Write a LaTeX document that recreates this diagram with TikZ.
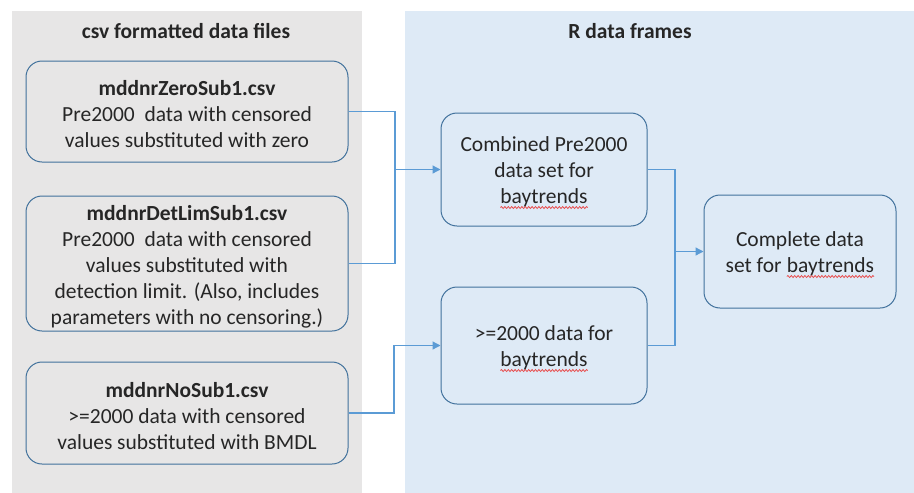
\documentclass[tikz,border=0pt]{standalone}
\usepackage{fontspec}
\setmainfont{Carlito}
\usetikzlibrary{arrows.meta,decorations.pathmorphing}
\definecolor{panelgray}{HTML}{E7E6E6}
\definecolor{panelblue}{HTML}{DEEAF6}
\definecolor{boxline}{HTML}{41719C}
\definecolor{conn}{HTML}{5B9BD5}
\definecolor{txt}{HTML}{262626}
\definecolor{squig}{HTML}{E84A4A}
\newcommand\spellword[1]{\tikz[baseline=(sw.base),x=1pt,y=1pt,sharp corners]{\node[inner sep=0pt,outer sep=0pt,minimum size=0pt,draw=none,fill=none,anchor=base,align=left,sharp corners] (sw) {#1};
 \draw[squig,line width=0.75pt,sharp corners,decorate,decoration={snake,amplitude=1pt,segment length=3.4pt}] ([yshift=-4.5pt]sw.base west) -- ([yshift=-4.5pt]sw.base east);}}
\tikzset{
  ptitle/.style={font=\fontsize{21.5}{26}\selectfont\bfseries,text=txt},
  filebox/.style={draw=boxline,line width=1pt,rounded corners=16pt,inner sep=0pt},
  boxtext/.style={align=center,text=txt,font=\fontsize{21.5}{26}\selectfont,inner sep=0pt,yshift=-3pt},
  link/.style={draw=conn,line width=1.3pt},
  arr/.style={link,-{Triangle[length=8pt,width=8pt]}}
}
\begin{document}
\begin{tikzpicture}[x=1pt,y=-1pt]
\useasboundingbox (0,0) rectangle (914,493);
\fill[panelgray] (12,11) rectangle (362,493);
\fill[panelblue] (405,11) rectangle (914,493);
\node[ptitle] (t1) at (186,31) {csv formatted data files};
\node[ptitle] (t2) at (630,31) {R data frames};

\node[filebox,minimum width=322pt,minimum height=101pt] (f1) at (187,111.5) {};
\node[boxtext] (f1t) at (f1.center)
  {\textbf{mddnrZeroSub1.csv}\\Pre2000\ \ data with censored\\values substituted with zero};
\node[filebox,minimum width=322pt,minimum height=135pt] (f2) at (187,263.5) {};
\node[boxtext] (f2t) at (f2.center)
  {\textbf{mddnrDetLimSub1.csv}\\Pre2000\ \ data with censored\\values substituted with\\detection limit. (Also, includes\\parameters with no censoring.)};
\node[filebox,minimum width=322pt,minimum height=102pt] (f3) at (187,413) {};
\node[boxtext] (f3t) at (f3.center)
  {\textbf{mddnrNoSub1.csv}\\>=2000 data with censored\\values substituted with BMDL};

\node[filebox,minimum width=206pt,minimum height=113pt] (c1) at (544,169.5) {};
\node[boxtext] (c1t) at (c1.center) {Combined Pre2000\\data set for\\\spellword{baytrends}};
\node[filebox,minimum width=206pt,minimum height=117pt] (c2) at (544,345.5) {};
\node[boxtext] (c2t) at (c2.center) {>=2000 data for\\\spellword{baytrends}};
\node[filebox,minimum width=192pt,minimum height=113pt] (c3) at (800,251.5) {};
\node[boxtext] (c3t) at (c3.center) {Complete data\\set for \spellword{baytrends}};

\coordinate (j1) at (395,169.5);
\coordinate (j2) at (675,251.5);
\draw[link] (f1.east) -| (j1) |- (f2.east);
\draw[arr] (j1) -- (c1.west);
\draw[arr] (f3.east) -| (394,345.5) -- (c2.west);
\draw[link] (c1.east) -| (j2) |- (c2.east);
\draw[arr] (j2) -- (c3.west);
\end{tikzpicture}
\end{document}
